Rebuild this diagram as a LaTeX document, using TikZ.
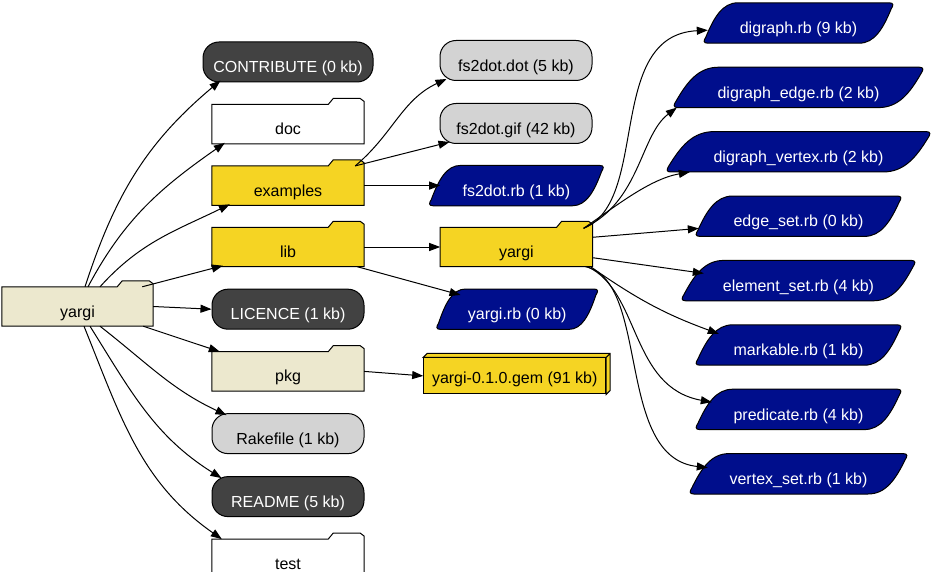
\documentclass[tikz,border=0pt]{standalone}
\usepackage{fontspec}
\setmainfont{Liberation Sans}
\usepackage{xcolor}
\usetikzlibrary{arrows.meta, positioning, calc, backgrounds}
\definecolor{folderbeige}{RGB}{236,232,206}
\definecolor{folderyellow}{RGB}{245,212,35}
\definecolor{darkgrey}{RGB}{66,66,66}
\definecolor{lightgrey}{RGB}{211,211,211}
\definecolor{rubyblue}{RGB}{0,14,140}

\begin{document}
\begin{tikzpicture}[
  x=1pt, y=-1pt,
  every node/.style={rectangle, inner sep=0pt, font=\fontsize{16}{19}\selectfont},
  folder/.style={minimum width=152pt, minimum height=39pt, text height=30pt, text depth=9pt},
  darkfile/.style={draw, fill=darkgrey, text=white, line width=1pt, rounded corners=16pt, minimum width=152pt, minimum height=40pt, text height=30.7pt, text depth=9.3pt},
  lightfile/.style={darkfile, fill=lightgrey, text=black},
  rubyfile/.style={text=white, minimum height=40pt, text height=30.7pt, text depth=9.3pt},
  gembox/.style={draw, fill=folderyellow, line width=1pt, minimum width=182pt, minimum height=36pt, text height=26pt, text depth=10pt},
  shapeline/.style={draw, line width=1pt},
  arrow/.style={-{Triangle[length=11pt, width=8pt]}, line width=1pt}
]
\useasboundingbox (0,0) rectangle (936,572);

% Nodes
\node[folder, minimum width=151pt] (root) at (77.5,306.5) {yargi};

\node[darkfile, minimum width=170pt] (contribute) at (288,62) {CONTRIBUTE (0 kb)};
\node[folder, below=22pt of contribute] (doc) {doc};
\node[folder, below=22pt of doc] (examples) {examples};
\node[folder, below=22pt of examples] (lib) {lib};
\node[darkfile, below=22pt of lib] (licence) {LICENCE (1 kb)};
\node[folder, below=22pt of licence] (pkg) {pkg};
\node[lightfile, below=22pt of pkg] (rakefile) {Rakefile (1 kb)};
\node[darkfile, below=22pt of rakefile] (readme) {README (5 kb)};
\node[folder, below=22pt of readme] (test) {test};

\node[lightfile] (fsdot) at (516,60.5) {fs2dot.dot (5 kb)};
\node[lightfile, below=22pt of fsdot] (fsgif) {fs2dot.gif (42 kb)};
\node[rubyfile, minimum width=174pt, right=65pt of examples] (fsrb) {fs2dot.rb (1 kb)};
\node[folder, right=76pt of lib] (yargilib) {yargi};
\node[rubyfile, minimum width=161pt, right=72pt of licence] (yargirb) {yargi.rb (0 kb)};
\node[gembox, below=28pt of yargirb, xshift=-2.5pt] (gem) {yargi-0.1.0.gem (91 kb)};

\node[rubyfile, minimum width=189pt] (digraph) at (798.5,23) {digraph.rb (9 kb)};
\node[rubyfile, minimum width=249pt, below=24pt of digraph] (digraphedge) {digraph\_edge.rb (2 kb)};
\node[rubyfile, minimum width=263pt, below=24pt of digraphedge] (digraphvertex) {digraph\_vertex.rb (2 kb)};
\node[rubyfile, minimum width=205pt, below=24pt of digraphvertex] (edgeset) {edge\_set.rb (0 kb)};
\node[rubyfile, minimum width=233pt, below=24pt of edgeset] (elementset) {element\_set.rb (4 kb)};
\node[rubyfile, minimum width=205pt, below=24pt of elementset] (markable) {markable.rb (1 kb)};
\node[rubyfile, minimum width=205pt, below=24pt of markable] (predicate) {predicate.rb (4 kb)};
\node[rubyfile, minimum width=217pt, below=24pt of predicate] (vertexset) {vertex\_set.rb (1 kb)};

% Shapes
\begin{scope}[on background layer]
\foreach \f/\col in {root/folderbeige, doc/white, examples/folderyellow, lib/folderyellow, pkg/folderbeige, test/white, yargilib/folderyellow}
  \path[shapeline, fill=\col] let \p1=(\f.south west), \p2=(\f.north east) in
    (\x1,\y1) -- (\x1,\y2) -- (\x2-36pt,\y2) -- (\x2-31pt,\y2+6pt) -- (\x2-4pt,\y2+6pt) -- (\x2,\y2+3pt) -- (\x2,\y1) -- cycle;

\foreach \f in {fsrb, yargirb, digraph, digraphedge, digraphvertex, edgeset, elementset, markable, predicate, vertexset}
  \path[shapeline, fill=rubyblue] let \p1=(\f.south west), \p2=(\f.north east), \n1={0.18*(\x2-\x1)} in
    (\x1+4pt,\y1) .. controls (\x1-1pt,\y1) and (\x1,\y1+3pt) .. (\x1+2pt,\y1+6pt)
    .. controls (\x1+0.3*\n1,\y1+26pt) and (\x1+0.55*\n1,\y2) .. (\x1+\n1,\y2)
    -- (\x2-4pt,\y2)
    .. controls (\x2+1pt,\y2) and (\x2,\y2-3pt) .. (\x2-2pt,\y2-6pt)
    .. controls (\x2-0.3*\n1,\y2-26pt) and (\x2-0.55*\n1,\y1) .. (\x2-\n1,\y1)
    -- cycle;

\path[shapeline, fill=folderyellow] let \p1=(gem.south west), \p2=(gem.north east) in
  (\x1,\y2) -- (\x1+4pt,\y2+4pt) -- (\x2+4pt,\y2+4pt) -- (\x2+4pt,\y1+4pt) -- (\x2,\y1) -- (\x2,\y2) -- cycle
  (\x2,\y2) -- (\x2+4pt,\y2+4pt);
\end{scope}

% Arrows
\draw[arrow] ($(root.north)+(7.5,0)$) to[out=72, in=220] ($(contribute.south west)+(18,-2)$);
\draw[arrow] ($(root.north)+(10.5,0)$) to[out=62, in=215] ($(doc.south west)+(13,-1)$);
\draw[arrow] ($(root.north)+(22.5,0)$) to[out=48, in=206] ($(examples.south west)+(18,-1)$);
\draw[arrow] ($(root.north east)+(-11,0)$) -- ($(lib.south west)+(11,-1)$);
\draw[arrow] (root.east) -- (licence.west);
\draw[arrow] ($(root.south east)+(-10,0)$) -- ($(pkg.north west)+(8,0)$);
\draw[arrow] ($(root.south)+(22.5,0)$) to[out=-38, in=155] ($(rakefile.north west)+(15,2)$);
\draw[arrow] ($(root.south)+(12.5,0)$) to[out=-58, in=148] ($(readme.north west)+(10,2)$);
\draw[arrow] ($(root.south)+(6.5,0)$) to[out=-68, in=145] ($(test.north west)+(10,0)$);

\draw[arrow] ($(examples.north east)+(-9,0)$) to[out=40, in=205] ($(fsdot.south west)+(7,-2)$);
\draw[arrow] ($(examples.north east)+(-9,0)$) -- ($(fsgif.south west)+(10,-2)$);
\draw[arrow] (examples.east) -- ($(fsrb.west)+(11,0)$);

\draw[arrow] (lib.east) -- (yargilib.west);
\draw[arrow] ($(lib.south east)+(-7,0)$) -- ($(yargirb.north west)+(24,6)$);

\draw[arrow] (pkg.east) -- (gem.west);

\draw[arrow] ($(yargilib.north east)+(-9,1)$) .. controls +(67,-27) and +(-103,5) .. ($(digraph.south west)+(4,-13)$);
\draw[arrow] ($(yargilib.north east)+(-9,1)$) .. controls +(57,-27) and +(-37,28) .. ($(digraphedge.south west)+(3,0)$);
\draw[arrow] ($(yargilib.north east)+(-9,1)$) .. controls +(32,-22) and +(-40,7) .. ($(digraphvertex.south west)+(23,0)$);
\draw[arrow] ($(yargilib.north east)+(0,10)$) -- ($(edgeset.south west)+(3,-8)$);
\draw[arrow] ($(yargilib.south east)+(0,-9)$) -- ($(elementset.north west)+(22,13)$);
\draw[arrow] ($(yargilib.south east)+(-2,0)$) to[out=-35, in=160] ($(markable.north west)+(23,9)$);
\draw[arrow] ($(yargilib.south east)+(-5,0)$) .. controls +(53,25) and +(-82,-15) .. ($(predicate.north west)+(16,13)$);
\draw[arrow] ($(yargilib.south east)+(-7,0)$) .. controls +(65,15) and +(-93,-10) .. ($(vertexset.north west)+(18,14)$);

\end{tikzpicture}
\end{document}
